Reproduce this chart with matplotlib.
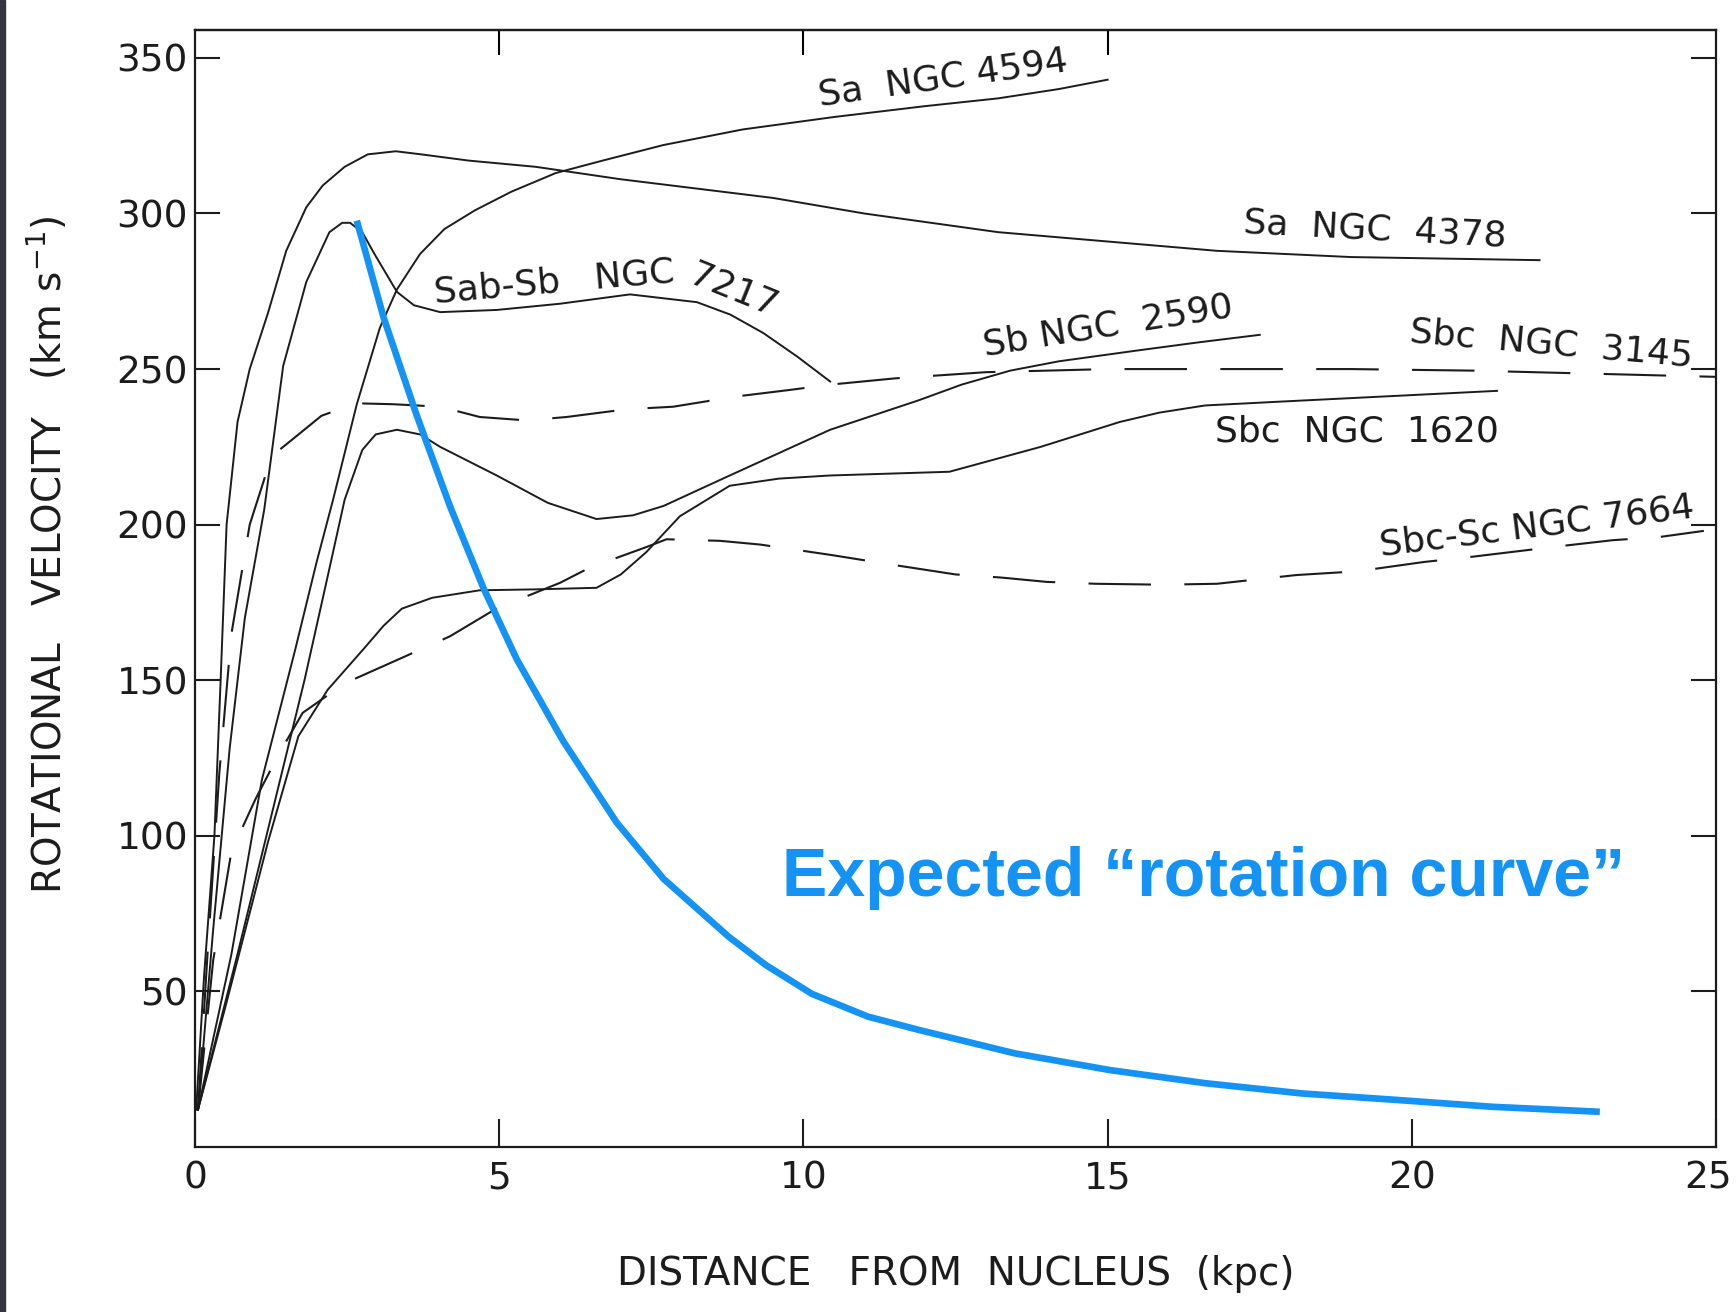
import matplotlib.pyplot as plt
import matplotlib.transforms as mtransforms
from matplotlib.patches import Rectangle

plt.rcParams['lines.scale_dashes'] = False

# rotation curves (kpc, km/s)
ngc4378_x = [0.02, 0.15, 0.32, 0.42, 0.52, 0.7, 0.9, 1.2, 1.5, 1.83, 2.1, 2.46, 2.84, 3.3, 3.72,
             4.5, 5.6, 7.0, 9.5, 11.0, 13.2, 15.0, 16.8, 19.0, 22.1]
ngc4378_v = [12, 55, 100, 149, 200, 233, 250, 268, 288, 302, 309, 315, 319, 320, 319,
             317, 315, 311, 305, 300, 294, 291, 288, 286, 285]

ngc4594_x = [0.05, 0.6, 1.1, 1.65, 2.0, 2.27, 2.66, 3.04, 3.32, 3.7, 4.1, 4.6, 5.2, 5.93, 6.7,
             7.7, 9.0, 10.5, 12.0, 13.2, 14.2, 15.0]
ngc4594_v = [12, 62, 118, 160, 188, 208, 238.7, 263.3, 275.6, 287, 295, 301, 307, 313, 317,
             322, 327, 331, 334.5, 337, 340, 343]

ngc7217_x = [0.05, 0.3, 0.57, 0.82, 1.14, 1.45, 1.83, 2.21, 2.42, 2.55, 2.75, 2.95, 3.32, 3.6,
             4.03, 4.96, 6.0, 7.15, 8.25, 8.8, 9.34, 9.9, 10.44]
ngc7217_v = [12, 70, 128, 170, 205, 251, 278, 294, 297, 297, 294, 287, 274.8, 270.5,
             268.3, 269, 271, 274, 271.5, 267.5, 261.6, 254, 246]

ngc2590_x = [0.05, 0.7, 1.3, 1.8, 2.2, 2.46, 2.75, 2.97, 3.32, 3.7, 4.03, 4.96, 5.8, 6.6,
             7.2, 7.7, 8.79, 10.44, 11.9, 12.6, 13.4, 14.2, 15.5, 16.5, 17.5]
ngc2590_v = [12, 62, 110, 150, 185, 208, 224, 229, 230.5, 229, 225, 215.8, 207, 201.8,
             203, 206, 215.8, 230.5, 240, 245, 249.5, 252.5, 256, 258.6, 261]

ngc1620_x = [0.05, 0.5, 0.95, 1.2, 1.7, 2.18, 2.77, 3.1, 3.4, 3.9, 4.68, 5.6, 6.6, 7.0, 7.42, 7.97,
             8.79, 9.6, 10.44, 12.4, 13.9, 15.2, 15.85, 16.6, 17.8, 21.4]
ngc1620_v = [12, 45, 79, 98, 132, 146.9, 160, 167.5, 173, 176.5, 178.9, 179.2, 179.7, 184, 191.2,
             202.7, 212.5, 214.8, 215.8, 217, 225, 233, 236, 238.3, 239.5, 243]

ngc3145_x = [0.05, 0.2, 0.4, 0.6, 0.9, 1.26, 1.64, 2.08, 2.65, 3.26, 4.03, 4.68, 5.45, 6.11, 7.1,
             7.86, 8.9, 9.78, 10.44, 11.5, 13.0, 15.0, 17.0, 19.0, 21.0, 23.0, 25.0]
ngc3145_v = [12, 60, 120, 165, 200, 222, 228, 235, 239, 238.7, 237.9, 234.6, 233.5, 234.6, 237.1,
             237.9, 241.2, 243.3, 245, 247, 249, 250, 250, 250, 249.5, 248.5, 247.5]

ngc7664_x = [0.05, 0.3, 0.6, 1.0, 1.4, 1.77, 2.46, 3.15, 4.19, 4.96, 6.0, 6.49, 7.42, 7.75, 8.63,
             9.29, 10.44, 11.5, 12.5, 13.25, 14.0, 14.8, 15.9, 16.8, 18.1, 19.1, 20.2, 21.0, 22.4,
             23.3, 24.06, 24.8]
ngc7664_v = [12, 60, 95, 112, 127, 139.5, 149, 155, 164.1, 173.1, 181.3, 186.2, 192.8, 195.3, 194.8,
             193.6, 190.3, 187, 184, 183, 181.6, 181, 180.7, 181, 183.8, 185, 188, 189.7, 193,
             195, 196, 198]

# expected decline (blue overlay)
expected_x = [2.66, 3.10, 3.64, 4.19, 4.74, 5.29, 6.05, 6.93, 7.70, 8.77, 9.38, 10.14, 11.06,
              11.9, 13.47, 15.04, 16.6, 18.19, 19.76, 21.33, 23.09]
expected_v = [297.7, 266.6, 235.4, 206, 179.7, 156.7, 130.5, 104.3, 86.2, 67.6, 58.5, 49.2, 41.9,
              37.6, 30.1, 24.7, 20.5, 17.2, 15.1, 12.9, 11.3]

ink = '#1c1c1c'
blue = '#1493f4'

fig = plt.figure(figsize=(17.36, 13.12), dpi=100)
ax = fig.add_axes([0.1123, 0.1258, 0.8762, 0.8514])

solid = [(ngc4378_x, ngc4378_v), (ngc4594_x, ngc4594_v), (ngc7217_x, ngc7217_v),
         (ngc2590_x, ngc2590_v), (ngc1620_x, ngc1620_v)]
for xs, vs in solid:
    ax.plot(xs, vs, color=ink, lw=1.4, solid_joinstyle='round')

for xs, vs in [(ngc3145_x, ngc3145_v), (ngc7664_x, ngc7664_v)]:
    ax.plot(xs, vs, color=ink, lw=1.5, dashes=(45, 24))

ax.plot(expected_x, expected_v, color=blue, lw=4.8, solid_capstyle='butt',
        solid_joinstyle='round')

ax.set_xlim(0, 25)
ax.set_ylim(0, 359)
ax.set_xticks([0, 5, 10, 15, 20, 25])
ax.set_yticks([50, 100, 150, 200, 250, 300, 350])
ax.tick_params(axis='both', direction='in', labelsize=27, colors=ink, width=1.5)
ax.tick_params(axis='y', length=18, pad=5, right=True)
ax.tick_params(axis='x', length=20, pad=10)
top = ax.secondary_xaxis('top')
top.set_xticks([5, 10, 15])
top.tick_params(direction='in', length=18, width=1.5, labeltop=False)
for s in list(ax.spines.values()) + list(top.spines.values()):
    s.set_linewidth(1.6)
    s.set_color(ink)

# last x label sits on the right edge, nudge it in a little
last = ax.get_xticklabels()[-1]
last.set_transform(last.get_transform() + mtransforms.ScaledTranslation(-8 / 100, 0, fig.dpi_scale_trans))

ax.set_xlabel('DISTANCE   FROM  NUCLEUS  (kpc)', fontsize=28, color=ink, labelpad=42)
ax.set_ylabel(r'ROTATIONAL   VELOCITY   (km s$^{-1}$)', fontsize=28, color=ink)
ax.yaxis.set_label_coords(-0.083, 0.53)

lab = dict(fontsize=26, color=ink, ha='center', va='center')
ax.text(12.3, 343.5, 'Sa  NGC 4594', rotation=8, **lab)
ax.text(19.4, 295, 'Sa  NGC  4378', rotation=-3, **lab)
ax.text(5.9, 278, 'Sab-Sb   NGC', rotation=5, **lab)
ax.text(8.85, 275, '7217', rotation=-22, **lab)
ax.text(15.0, 264, 'Sb NGC  2590', rotation=9, **lab)
ax.text(22.3, 258, 'Sbc  NGC  3145', rotation=-5, **lab)
ax.text(19.1, 230, 'Sbc  NGC  1620', rotation=0, **lab)
ax.text(22.05, 199.5, 'Sbc-Sc NGC 7664', rotation=7, **lab)

ax.text(16.58, 86.5, 'Expected \u201crotation curve\u201d', fontsize=49, fontweight='bold',
        family=['Liberation Sans', 'DejaVu Sans'], color=blue, ha='center', va='center')

# dark scan edge on the left
fig.patches.append(Rectangle((0, 0), 5 / 1736, 1, transform=fig.transFigure,
                             color='#34363f', zorder=0))

fig.savefig('out.png', dpi=100)
